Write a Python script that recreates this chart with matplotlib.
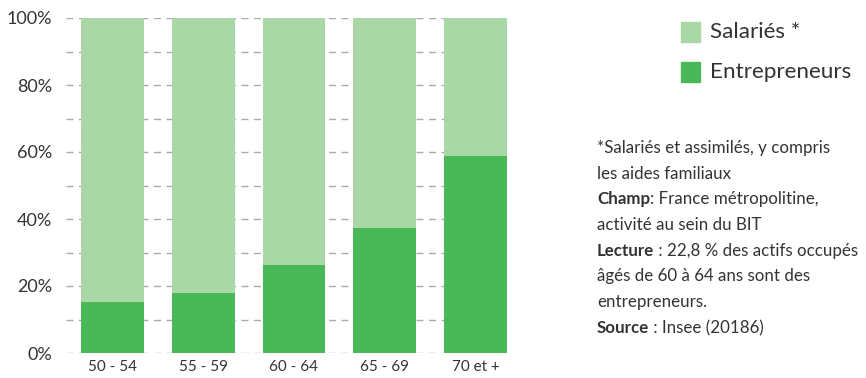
import matplotlib
matplotlib.use('Agg')
import matplotlib.pyplot as plt
from matplotlib.patches import Rectangle

# Data
categories = ['50 - 54', '55 - 59', '60 - 64', '65 - 69', '70 et +']
entrepreneurs = [15.2, 17.9, 26.3, 37.3, 58.8]
salaries = [100 - v for v in entrepreneurs]
legend_labels = ['Salariés *', 'Entrepreneurs']
notes = [
    ('', '*Salariés et assimilés, y compris'),
    ('', 'les aides familiaux'),
    ('Champ', ': France métropolitine,'),
    ('', 'activité au sein du BIT'),
    ('Lecture', ' : 22,8 % des actifs occupés'),
    ('', 'âgés de 60 à 64 ans sont des'),
    ('', 'entrepreneurs.'),
    ('Source', ' : Insee (20186)'),
]

light_green = '#a9d7a5'
dark_green = '#4ab859'
text_color = '#333333'

plt.rcParams['font.family'] = ['Lato', 'DejaVu Sans']

fig = plt.figure(figsize=(8.66, 3.78), dpi=100)
ax = fig.add_axes([66 / 866, 1 - 353 / 378, (507 - 66) / 866, (353 - 18) / 378])

x = range(len(categories))
ax.bar(x, entrepreneurs, width=0.692, color=dark_green, zorder=3)
ax.bar(x, salaries, bottom=entrepreneurs, width=0.692, color=light_green, zorder=3)

ax.set_xlim(-0.511, 4.346)
ax.set_ylim(0, 100)
ax.set_yticks(range(0, 101, 20))
ax.set_yticklabels([f'{v}%' for v in range(0, 101, 20)], fontsize=13, color=text_color)
ax.set_yticks(range(10, 100, 20), minor=True)
ax.set_xticks(list(x))
ax.set_xticklabels(categories, fontsize=11, color=text_color)
ax.tick_params(axis='both', which='both', length=0)
ax.tick_params(axis='y', pad=10)
ax.tick_params(axis='x', pad=5)
ax.grid(axis='y', which='both', color='#aaaaaa', linestyle=(0, (5, 4)), linewidth=1, zorder=0)
for s in ax.spines.values():
    s.set_visible(False)

# legend
for i, (lab, col) in enumerate(zip(legend_labels, [light_green, dark_green])):
    y = 1 - (32 + 40 * i) / 378
    fig.patches.append(Rectangle((681 / 866, y - 10 / 378), 19 / 866, 20 / 378,
                                 transform=fig.transFigure, color=col, figure=fig))
    fig.text(710 / 866, y, lab, fontsize=16.2, color=text_color, va='center')

# notes
fig.canvas.draw()
renderer = fig.canvas.get_renderer()
for i, (bold, rest) in enumerate(notes):
    y = 1 - (148 + 25.7 * i) / 378
    xpos = 597 / 866
    if bold:
        t = fig.text(xpos, y, bold, fontsize=12.2, fontweight='bold', color=text_color, va='center')
        bb = t.get_window_extent(renderer)
        xpos = bb.x1 / fig.bbox.width
    fig.text(xpos, y, rest, fontsize=12.2, color=text_color, va='center')

fig.savefig('out.png', dpi=100)
